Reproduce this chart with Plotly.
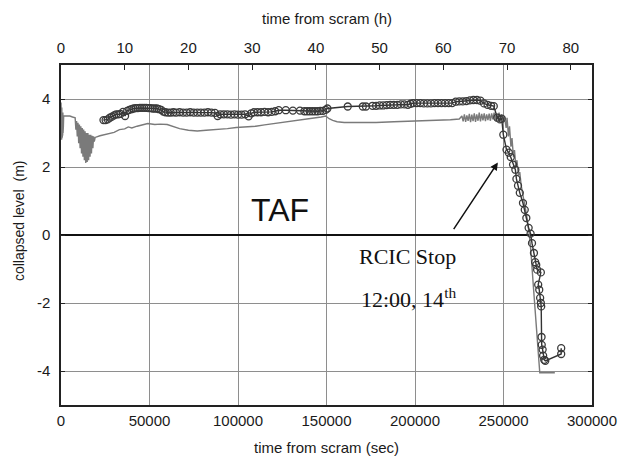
import plotly.graph_objects as go

# ---- data ----
# gray line: measured/estimated collapsed level (time in s, level in m)
gray_t = [0, 150, 250, 350, 450, 550, 650, 750, 850, 950, 1050, 1150, 1250, 1350, 1500, 1700,
          3000, 5000, 6500, 7500,
          8000, 8400, 8800, 9200, 9600, 10000, 10400, 10800, 11200, 11600, 12000, 12400, 12800,
          13200, 13600, 14000, 14400, 14800, 15200, 15600, 16000, 16400, 16800, 17200, 17600,
          18000, 18400, 18800, 19300,
          22000, 26000, 30000, 33000, 36000, 38000, 40000, 43000, 46000, 49000, 53000, 56000,
          60000, 64000, 67000, 72000, 77000, 82000, 88000, 94000, 99000, 105000, 110000, 115000,
          121000, 128000, 135000, 141000, 147000, 149500, 151500, 153500, 156000, 160000, 169000,
          178000, 188000, 196000, 204000, 212000, 220000, 225000,
          226500, 227200, 227900, 228600, 229300, 230000, 230700, 231400, 232100, 232800, 233500,
          234200, 234900, 235600, 236300, 237000, 237700, 238400, 239100, 239800, 240500, 241200,
          241900, 242600, 243300, 244000, 244700, 245400, 246100, 246800, 247500, 248200, 248900,
          249600, 250500,
          251500, 252000, 252800, 253400, 254200, 254800, 255600, 256200, 257000, 257600, 258400,
          259200, 260000, 261500, 263000, 264600, 265500, 267000, 268500, 270000, 270500, 279000]
gray_y = [3.9, 2.9, 3.8, 2.8, 3.75, 2.85, 3.7, 2.9, 3.65, 2.95, 3.6, 3.0, 3.55, 3.2, 3.5, 3.5,
          3.48, 3.5, 3.47, 3.45,
          3.45, 3.1, 3.35, 2.9, 3.3, 2.7, 3.25, 2.55, 3.2, 2.4, 3.15, 2.3, 3.1,
          2.2, 3.05, 2.12, 3.0, 2.15, 3.0, 2.2, 2.95, 2.3, 2.95, 2.4, 2.92,
          2.55, 2.9, 2.75, 2.87,
          2.92, 2.98, 3.02, 3.1, 3.12, 3.18, 3.15, 3.2, 3.25, 3.28, 3.25, 3.26,
          3.25, 3.18, 3.13, 3.08, 3.06, 3.08, 3.1, 3.13, 3.16, 3.18, 3.2, 3.24,
          3.28, 3.33, 3.38, 3.43, 3.47, 3.5, 3.42, 3.37, 3.33, 3.31, 3.3,
          3.31, 3.33, 3.34, 3.36, 3.37, 3.39, 3.41,
          3.5, 3.34, 3.55, 3.33, 3.52, 3.36, 3.56, 3.32, 3.54, 3.35, 3.58,
          3.33, 3.55, 3.36, 3.6, 3.34, 3.56, 3.37, 3.58, 3.35, 3.55, 3.38,
          3.57, 3.36, 3.58, 3.4, 3.6, 3.38, 3.57, 3.4, 3.6, 3.35, 3.55,
          3.4, 3.5,
          3.15, 3.45, 2.9, 3.2, 2.6, 2.85, 2.3, 2.5, 2.0, 2.2, 1.75,
          1.85, 1.45, 1.05, 0.6, 0.0, -0.5, -1.6, -2.7, -3.8, -4.05, -4.05]

# dark line with open circles: calculated collapsed level
circ_t = [24000, 25200, 26400, 27600, 28800, 30000, 31200, 32400, 33600, 35000, 36200, 37400,
          38600, 39800, 41000, 42200, 43400, 44600, 45800, 47000, 48200, 49400, 50600, 51800,
          53000, 54200, 55400, 56600, 57800, 59000, 60500, 62000, 63500, 65000, 67000, 69000,
          71000, 73000, 75000, 77000, 79000, 81000, 83000, 85000, 87000, 88500, 90000, 92000,
          94000, 96000, 98000, 100000, 102000, 104000, 106000, 107500, 109000, 111000, 113000,
          115000, 117000, 119000, 121000, 123000, 127000, 131000, 135000, 137500, 139000, 140500,
          142000, 143500, 145000, 146500, 148000, 149500, 150500, 162000, 170500, 172300, 176000,
          178000, 180000, 182000, 184000, 186000, 188000, 190000, 192000, 194000, 196000, 197500,
          199000, 201000, 203000, 205000, 207000, 209000, 211000, 213000, 215000, 217000, 219000,
          221000, 223000, 225000, 227000, 229000, 231000, 233000, 235000, 237000, 239000, 241000,
          243000, 244500, 246500, 248000, 249000, 249900, 251700, 253000, 254100, 255400, 256700,
          257300, 258200, 259200, 261000, 262000, 262900, 264200, 265300, 266100, 267200, 267900,
          268500, 269000, 271100, 269600, 270200, 270700, 271100, 271300, 271500, 271600, 272100,
          272400, 273000, 273600, 282600, 282600]
circ_y = [3.38, 3.38, 3.40, 3.45, 3.48, 3.52, 3.55, 3.55, 3.56, 3.62, 3.50, 3.65,
          3.68, 3.70, 3.72, 3.73, 3.73, 3.74, 3.74, 3.74, 3.74, 3.73, 3.73, 3.72,
          3.72, 3.72, 3.70, 3.68, 3.63, 3.61, 3.60, 3.60, 3.61, 3.60, 3.61, 3.60,
          3.60, 3.61, 3.60, 3.60, 3.60, 3.60, 3.61, 3.60, 3.59, 3.50, 3.55, 3.55,
          3.55, 3.54, 3.55, 3.54, 3.54, 3.55, 3.49, 3.58, 3.61, 3.61, 3.61,
          3.62, 3.61, 3.62, 3.64, 3.67, 3.67, 3.66, 3.66, 3.64, 3.64, 3.64,
          3.64, 3.64, 3.64, 3.65, 3.65, 3.68, 3.72, 3.78, 3.78, 3.78, 3.80,
          3.80, 3.81, 3.81, 3.82, 3.83, 3.83, 3.83, 3.84, 3.84, 3.83, 3.86,
          3.88, 3.88, 3.88, 3.87, 3.87, 3.87, 3.88, 3.88, 3.88, 3.88, 3.88,
          3.88, 3.92, 3.93, 3.93, 3.94, 3.96, 3.97, 3.97, 3.95, 3.87, 3.83,
          3.80, 3.79, 3.45, 3.40, 3.42, 2.95, 2.51, 2.42, 2.29, 2.07, 1.92,
          1.65, 1.45, 1.24, 0.94, 0.74, 0.50, 0.21, 0.04, -0.24, -0.53, -0.80,
          -0.88, -1.02, -1.10, -1.46, -1.61, -1.85, -2.00, -2.10, -3.00, -3.23, -3.37,
          -3.55, -3.67, -3.70, -3.50, -3.33]

x_ticks = [0, 50000, 100000, 150000, 200000, 250000, 300000]
h_ticks = [0, 10, 20, 30, 40, 50, 60, 70, 80]
y_ticks = [-4, -2, 0, 2, 4]
y_labels = ["-4", "-2", "0", "2", "4"]

SANS = "Liberation Sans, Arial, sans-serif"
SERIF = "Liberation Serif, Times New Roman, serif"
GRID = "#8e8e8e"

fig = go.Figure()
fig.add_trace(go.Scatter(x=gray_t, y=gray_y, mode="lines",
                         line=dict(color="#7a7a7a", width=1.4),
                         showlegend=False, hoverinfo="skip"))
fig.add_trace(go.Scatter(x=circ_t, y=circ_y, mode="lines+markers",
                         line=dict(color="#333333", width=1.4),
                         marker=dict(symbol="circle-open", size=7, color="#3a3a3a",
                                     line=dict(width=1.3)),
                         showlegend=False, hoverinfo="skip"))
# invisible trace so the top (hours) axis is drawn
fig.add_trace(go.Scatter(x=[0], y=[0], xaxis="x2", mode="markers",
                         marker=dict(opacity=0), showlegend=False, hoverinfo="skip"))

# the page body adds an 8 px margin, so the figure is 8 px smaller on each side
fig.update_layout(
    width=621, height=449,
    margin=dict(l=53, r=27, t=57, b=52),
    paper_bgcolor="white", plot_bgcolor="white",
    font=dict(family=SANS, size=15, color="#1a1a1a"),
    xaxis=dict(range=[0, 300000], tickvals=x_ticks, ticktext=[str(v) for v in x_ticks],
               showgrid=True, gridcolor=GRID, gridwidth=1,
               showline=True, linecolor="#222", linewidth=1.5, ticks="",
               ticklabelstandoff=1, zeroline=False, tickfont=dict(size=15)),
    xaxis2=dict(range=[0, 300000 / 3600], overlaying="x", side="top",
                tickvals=h_ticks, ticks="inside", ticklen=5, tickcolor="#222",
                showline=True, linecolor="#222", linewidth=1.5, showgrid=False,
                zeroline=False, ticklabelstandoff=4, tickfont=dict(size=15)),
    yaxis=dict(range=[-5, 5], tickvals=y_ticks, ticktext=y_labels,
               showgrid=True, gridcolor=GRID, gridwidth=1,
               showline=True, linecolor="#222", linewidth=1.5, mirror="ticks",
               ticks="inside", ticklen=4, tickcolor="#222",
               zeroline=True, zerolinecolor="#111", zerolinewidth=1.8,
               ticklabelstandoff=6, tickfont=dict(size=15)),
)

fig.add_annotation(text="time from scram (h)", xref="paper", yref="paper",
                   x=0.5, y=1.138, xanchor="center", yanchor="middle", showarrow=False,
                   font=dict(size=15, family=SANS))
fig.add_annotation(text="time from scram (sec)", xref="paper", yref="paper",
                   x=0.5, y=-0.124, xanchor="center", yanchor="middle", showarrow=False,
                   font=dict(size=15, family=SANS))
fig.add_annotation(text="collapsed level  (m)", xref="paper", yref="paper",
                   x=-0.079, y=0.541, xanchor="center", yanchor="middle", textangle=-90,
                   showarrow=False, font=dict(size=14, family=SANS))
fig.add_annotation(text="TAF", x=123700, y=0.73, showarrow=False,
                   xanchor="center", yanchor="middle",
                   font=dict(size=32, family=SANS, color="#111"))
fig.add_annotation(text="RCIC Stop", x=167500, y=-0.63, xanchor="left", yanchor="middle",
                   showarrow=False, font=dict(size=22, family=SERIF, color="#111"))
fig.add_annotation(text="12:00, 14<sup>th</sup>", x=168500, y=-1.85, xanchor="left",
                   yanchor="middle", showarrow=False,
                   font=dict(size=22, family=SERIF, color="#111"))
fig.add_annotation(x=246800, y=2.13, ax=221300, ay=0.13, xref="x", yref="y",
                   axref="x", ayref="y", text="", showarrow=True,
                   arrowhead=2, arrowsize=1, arrowwidth=1.5, arrowcolor="#111")

fig.write_html("out.html")
